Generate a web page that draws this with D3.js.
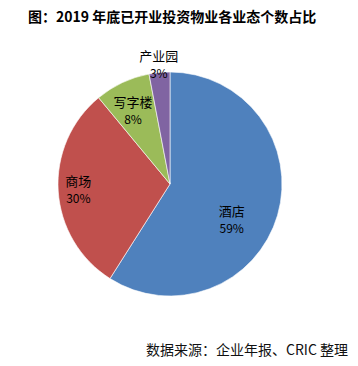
<!DOCTYPE html>
<html><head><meta charset="utf-8">
<script src="https://cdn.jsdelivr.net/npm/d3@7"></script>
<style>html,body{margin:0;padding:0;background:#fff;}svg{display:block;}</style>
</head><body>
<svg id="c" width="358" height="366"></svg>
<script>
const categories = ["酒店", "商场", "写字楼", "产业园"];
const values = [59, 30, 8, 3];
const percentLabels = ["59%", "30%", "8%", "3%"];
const colors = ["#4F81BD", "#C0504D", "#9BBB59", "#8064A2"];
const titleText = "图：2019 年底已开业投资物业各业态个数占比";
const sourceText = "数据来源：企业年报、CRIC 整理";
// label placement (radius factor, angle shift in radians)
const labelLayout = [{k:0.64, da:0.25}, {k:0.82, da:0}, {k:0.73, da:-0.03}, {k:1.07, da:0}];

const svg = d3.select("#c");
const cx = 170, cy = 184, R = 112;
const font = "'Noto Sans CJK SC','Noto Sans',sans-serif";

svg.append("text").attr("x", 28).attr("y", 22)
  .attr("font-family", font).attr("font-weight", "bold").attr("font-size", 14)
  .attr("fill", "#000").text(titleText);

const pie = d3.pie().sort(null).value(d => d)(values);
const arc = d3.arc().innerRadius(0).outerRadius(R);
const g = svg.append("g").attr("transform", `translate(${cx},${cy})`);
g.selectAll("path").data(pie).join("path")
  .attr("d", arc).attr("fill", (d, i) => colors[i])
  .attr("stroke", "#fff").attr("stroke-width", 0.6);

pie.forEach((d, i) => {
  const L = labelLayout[i];
  const a = (d.startAngle + d.endAngle) / 2 + L.da;
  const r = R * L.k;
  const x = Math.sin(a) * r, y = -Math.cos(a) * r;
  g.append("text").attr("x", x).attr("y", y - 4).attr("text-anchor", "middle")
    .attr("font-family", font).attr("font-size", 13).attr("fill", "#000").text(categories[i]);
  g.append("text").attr("x", x).attr("y", y + 13).attr("text-anchor", "middle")
    .attr("font-family", font).attr("font-size", 12).attr("fill", "#000").text(percentLabels[i]);
});

svg.append("text").attr("x", 348).attr("y", 355).attr("text-anchor", "end")
  .attr("font-family", font).attr("font-size", 14).attr("fill", "#111").text(sourceText);
</script>
</body></html>
